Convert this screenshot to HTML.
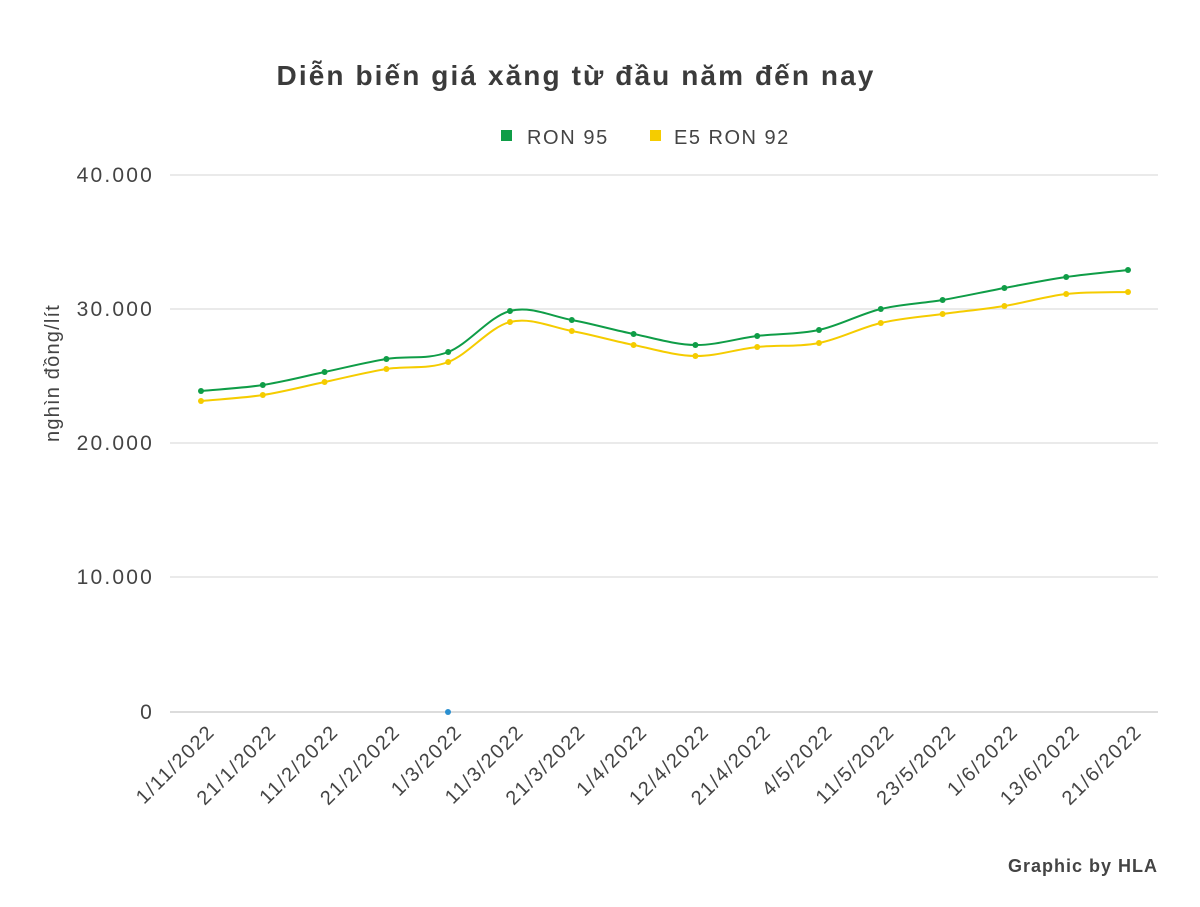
<!DOCTYPE html>
<html><head><meta charset="utf-8"><style>
html,body{margin:0;padding:0;background:#fff;}
svg text{font-family:"Liberation Sans",sans-serif;}
</style></head><body>
<svg width="1200" height="902" xmlns="http://www.w3.org/2000/svg">
<text x="576" y="85" text-anchor="middle" font-size="28" font-weight="bold" fill="#3b3b3b" letter-spacing="2.1">Diễn biến giá xăng từ đầu năm đến nay</text>
<rect x="501" y="130" width="11" height="11" fill="#0f9d47"/>
<text x="527" y="144" font-size="20" fill="#444" letter-spacing="1.6">RON 95</text>
<rect x="650" y="130" width="11" height="11" fill="#f5cc00"/>
<text x="674" y="144" font-size="20" fill="#444" letter-spacing="1.5">E5 RON 92</text>
<g stroke="#dddddd" stroke-width="1.3">
<line x1="170" y1="175" x2="1158" y2="175"/>
<line x1="170" y1="309" x2="1158" y2="309"/>
<line x1="170" y1="443" x2="1158" y2="443"/>
<line x1="170" y1="577" x2="1158" y2="577"/>
<line x1="170" y1="712" x2="1158" y2="712" stroke="#c8c8c8"/>
</g>
<g font-size="21" fill="#444" text-anchor="end" letter-spacing="2.2">
<text x="154" y="182">40.000</text>
<text x="154" y="316">30.000</text>
<text x="154" y="450">20.000</text>
<text x="154" y="584">10.000</text>
<text x="154" y="719">0</text>
</g>
<text transform="translate(59,373) rotate(-90)" text-anchor="middle" font-size="20" fill="#444" letter-spacing="1.2">nghìn đồng/lít</text>
<circle cx="448" cy="712" r="3" fill="#2a8fd0"/>
<g id="xl" font-size="20" fill="#444" text-anchor="end" letter-spacing="1.6"></g>
<path id="py" fill="none" stroke="#f5cc00" stroke-width="2"/>
<path id="pg" fill="none" stroke="#0f9d47" stroke-width="2"/>
<g id="dots"></g>
<text x="1158" y="872" text-anchor="end" font-size="18" font-weight="bold" fill="#444" letter-spacing="1">Graphic by HLA</text>
</svg>
<script>
var xs=[],labels=["1/11/2022","21/1/2022","11/2/2022","21/2/2022","1/3/2022","11/3/2022","21/3/2022","1/4/2022","12/4/2022","21/4/2022","4/5/2022","11/5/2022","23/5/2022","1/6/2022","13/6/2022","21/6/2022"];
for(var i=0;i<16;i++)xs.push(201+i*61.8);
var g=[391,385,372,359,352,311,320,334,345,336,330,309,300,288,277,270];
var y=[401,395,382,369,362,322,331,345,356,347,343,323,314,306,294,292];
function path(ys){var d="M"+xs[0]+","+ys[0];for(var i=0;i<ys.length-1;i++){var p0=i>0?i-1:i,p3=i+2<ys.length?i+2:i+1;
var c1x=xs[i]+(xs[i+1]-xs[p0])/6,c1y=ys[i]+(ys[i+1]-ys[p0])/6,c2x=xs[i+1]-(xs[p3]-xs[i])/6,c2y=ys[i+1]-(ys[p3]-ys[i])/6;
d+=" C"+c1x+","+c1y+" "+c2x+","+c2y+" "+xs[i+1]+","+ys[i+1];}return d;}
document.getElementById("py").setAttribute("d",path(y));
document.getElementById("pg").setAttribute("d",path(g));
var ns="http://www.w3.org/2000/svg",dots=document.getElementById("dots"),xl=document.getElementById("xl");
for(var i=0;i<16;i++){[[y,"#f5cc00"],[g,"#0f9d47"]].forEach(function(s){var c=document.createElementNS(ns,"circle");c.setAttribute("cx",xs[i]);c.setAttribute("cy",s[0][i]);c.setAttribute("r",3);c.setAttribute("fill",s[1]);dots.appendChild(c);});
var t=document.createElementNS(ns,"text");t.setAttribute("transform","translate("+(xs[i]+15)+",733) rotate(-45)");t.textContent=labels[i];xl.appendChild(t);}
</script>
</body></html>
